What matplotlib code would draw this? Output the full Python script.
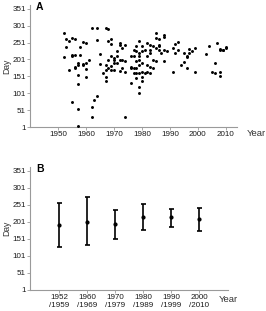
import numpy as np
import matplotlib
matplotlib.use("Agg")
import matplotlib.pyplot as plt

plt.rcParams['font.family'] = ['Liberation Sans', 'DejaVu Sans']

# ---- panel A: individual observations (year, day) ----
obs = {
    1952: [278, 207], 1953: [262, 237], 1954: [255, 170],
    1955: [265, 210, 215, 75], 1956: [262, 180, 175, 215],
    1957: [190, 185, 155, 128, 53, 5], 1958: [237, 215],
    1959: [252, 185, 187], 1960: [250, 172, 148, 190], 1961: [198],
    1962: [295, 60, 32], 1963: [80], 1964: [295, 257, 93],
    1965: [218, 188], 1966: [160], 1967: [295, 185, 170, 150, 138],
    1968: [290, 255, 200, 175], 1969: [260, 248, 210, 170, 182],
    1970: [205, 170, 200, 190], 1971: [225, 210, 190],
    1972: [250, 245, 200, 168], 1973: [235, 200, 175],
    1974: [245, 195, 165, 32], 1976: [210, 180, 175, 130],
    1977: [230, 210, 175, 160], 1978: [240, 225, 195, 175, 160, 145],
    1979: [255, 220, 210, 200, 185, 160, 120, 102],
    1980: [240, 225, 190, 165, 150, 138], 1981: [230, 160],
    1982: [250, 210, 185, 165], 1983: [245, 230, 220, 180, 160],
    1984: [240, 200, 175], 1985: [278, 265, 235, 195],
    1986: [260, 245, 240, 230], 1987: [220], 1988: [273, 268, 230, 197],
    1989: [225], 1991: [235, 163], 1992: [248, 220], 1993: [252, 230],
    1994: [185], 1995: [220, 193], 1996: [212, 207, 175],
    1997: [232, 220], 1998: [225], 1999: [235, 165], 2003: [218],
    2004: [240], 2005: [163], 2006: [190, 160], 2007: [250],
    2008: [232, 228, 163, 152], 2009: [228, 230], 2010: [235, 238],
}
years = []
days = []
for y, ds in obs.items():
    for d in ds:
        years.append(y)
        days.append(d)

# ---- panel B: decade summaries ----
periods = ['1952\n/1959', '1960\n/1969', '1970\n/1979', '1980\n/1989', '1990\n/1999', '2000\n/2010']
means = [192, 202, 194, 215, 214, 208]
lows = [127, 133, 150, 178, 185, 173]
highs = [257, 274, 236, 253, 240, 243]

yticks = [1, 51, 101, 151, 201, 251, 301, 351]
grey = '#9a9a9a'

fig = plt.figure(figsize=(2.66, 3.11), dpi=100)
W, H = 266, 311

def style(ax):
    for s in ['top', 'right']:
        ax.spines[s].set_visible(False)
    for s in ['left', 'bottom']:
        ax.spines[s].set_color(grey)
        ax.spines[s].set_linewidth(0.8)
    ax.tick_params(length=2, width=0.6, color=grey, labelsize=5.8, pad=1, labelcolor='#1a1a1a')
    ax.set_yticks(yticks)
    ax.set_ylim(1, 362)
    ax.set_ylabel('Day', fontsize=6.2, labelpad=1, color='#333333')

axA = fig.add_axes([30 / W, 1 - 127 / H, 207 / W, 122 / H])
axA.scatter(years, days, s=4.5, color='black', linewidths=0, zorder=3, clip_on=False)
axA.set_xlim(1940, 2014)
axA.set_xticks([1950, 1960, 1970, 1980, 1990, 2000, 2010])
style(axA)
fig.text(247 / W, 1 - 134 / H, 'Year', fontsize=6.8, va='center', ha='left', color='#333333')
fig.text(36 / W, 1 - 7 / H, 'A', fontsize=7.5, fontweight='bold', va='center', ha='left')

axB = fig.add_axes([30 / W, 1 - 290 / H, 198 / W, 123 / H])
x = np.arange(len(periods))
m = np.array(means)
err = [m - np.array(lows), np.array(highs) - m]
axB.errorbar(x, m, yerr=err, fmt='o', color='black', ms=2, elinewidth=1.2,
             capsize=1.8, capthick=1.2, zorder=3)
axB.set_xlim(-1.04, 6.03)
axB.set_xticks(x)
axB.set_xticklabels(periods)
style(axB)
fig.text(219 / W, 1 - 300 / H, 'Year', fontsize=6.8, va='center', ha='left', color='#333333')
fig.text(36 / W, 1 - 169 / H, 'B', fontsize=7.5, fontweight='bold', va='center', ha='left')

fig.savefig('out.png', dpi=100)
